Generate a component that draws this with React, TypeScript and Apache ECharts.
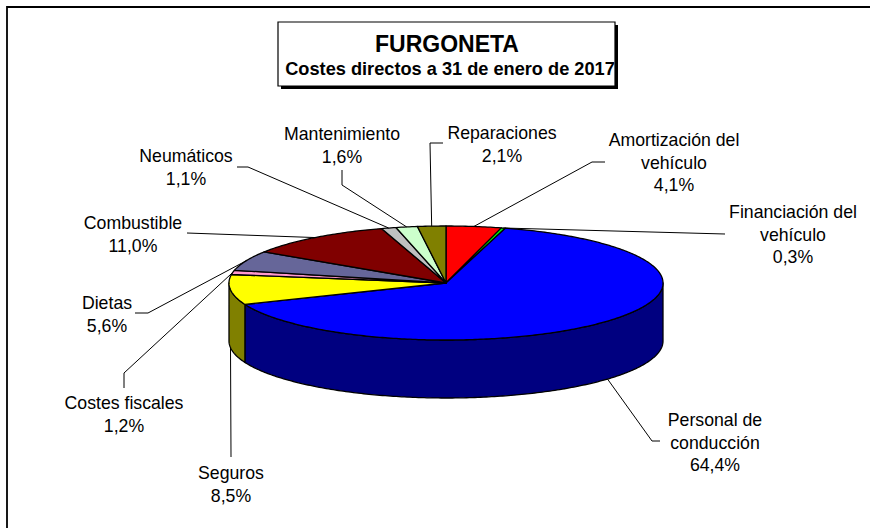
import React, { useEffect, useRef } from "react";
import * as echarts from "echarts";

// ---- data ----
const categories = [
  "Amortización del\nvehículo",
  "Financiación del\nvehículo",
  "Personal de\nconducción",
  "Seguros",
  "Costes fiscales",
  "Dietas",
  "Combustible",
  "Neumáticos",
  "Mantenimiento",
  "Reparaciones",
];
const shares = [4.1, 0.3, 64.4, 8.5, 1.2, 5.6, 11.0, 1.1, 1.6, 2.1];
const chartTitle = "FURGONETA";
const chartSubtitle = "Costes directos a 31 de enero de 2017";

// ---- styles ----
const topColors = ["#FF0000", "#00FF00", "#0000FF", "#FFFF00", "#FF99CC", "#666699", "#800000", "#C0C0C0", "#CCFFCC", "#808000"];
const sideColors = ["#800000", "#008000", "#000080", "#808000", "#804C66", "#33334C", "#400000", "#606060", "#668066", "#404000"];

// ---- layout ----
const PIE = { cx: 446, cy: 283, rx: 217, ry: 57, depth: 58 };
// label block: [centre x, centre y of first line]
const labelPos = [
  [674, 140], [793, 212], [715, 420], [231, 473], [124, 403],
  [107, 303], [133, 223], [186, 156], [342, 134], [502, 133],
];
// leader line points near the label (the last point is computed on the slice)
const labelElbows = [
  [[605, 162], [592, 162]],
  [[725, 234]],
  [[660, 441], [652, 441]],
  [[231, 457]],
  [[124, 388], [124, 373]],
  [[135, 313], [148, 313]],
  [[187, 233]],
  [[237, 167], [248, 167]],
  [[342, 170], [342, 185]],
  [[443, 143], [430, 143]],
];
const FONT = '"Liberation Sans", Arial, sans-serif';
const LABEL_SIZE = 17.7;
const LINE_H = 22.5;

function rim(angleDeg: number, dy = 0): number[] {
  const a = (angleDeg * Math.PI) / 180;
  return [PIE.cx + PIE.rx * Math.sin(a), PIE.cy - PIE.ry * Math.cos(a) + dy];
}
function arcPoints(a0: number, a1: number, dy = 0): number[][] {
  const n = Math.max(2, Math.ceil(Math.abs(a1 - a0) / 0.75) + 1);
  const pts: number[][] = [];
  for (let k = 0; k < n; k++) pts.push(rim(a0 + ((a1 - a0) * k) / (n - 1), dy));
  return pts;
}

export default function App() {
  const ref = useRef<HTMLDivElement>(null);
  useEffect(() => {
    if (!ref.current) return;
    const chart = echarts.init(ref.current, undefined, { renderer: "svg" });

    const total = shares.reduce((a, b) => a + b, 0);
    const starts: number[] = [];
    let acc = 0;
    shares.forEach((v) => {
      starts.push((acc / total) * 360);
      acc += v;
    });
    const sliceAngles = (i: number, v: number) => {
      const a0 = starts[i];
      return [a0, a0 + (v / total) * 360];
    };

    const data = shares.map((v, i) => ({ value: v, name: categories[i] }));

    const renderSlice = (params: any, api: any) => {
      const i = params.dataIndex;
      const v = api.value(0);
      const [a0, a1] = sliceAngles(i, v);
      const children: any[] = [];
      const lo = Math.max(a0, 90);
      const hi = Math.min(a1, 270);
      if (hi > lo) {
        const pts = arcPoints(lo, hi, 0).concat(arcPoints(hi, lo, PIE.depth));
        children.push({
          type: "polygon",
          shape: { points: pts },
          style: { fill: sideColors[i], stroke: "#000", lineWidth: 1.3, lineJoin: "round" },
        });
      }
      children.push({
        type: "polygon",
        shape: { points: [[PIE.cx, PIE.cy]].concat(arcPoints(a0, a1, 0)) },
        style: { fill: topColors[i], stroke: "#000", lineWidth: 1.3, lineJoin: "round" },
      });
      return { type: "group", children };
    };

    const renderLabel = (params: any, api: any) => {
      const i = params.dataIndex;
      const v = api.value(0);
      const [a0, a1] = sliceAngles(i, v);
      const mid = (a0 + a1) / 2;
      const front = mid > 90 && mid < 270;
      const anchor = rim(mid, front ? PIE.depth : 0);
      const pts = labelElbows[i].concat([anchor]);
      const txt = categories[i] + "\n" + v.toFixed(1).replace(".", ",") + "%";
      return {
        type: "group",
        children: [
          {
            type: "polyline",
            shape: { points: pts },
            style: { stroke: "#000", lineWidth: 1, fill: "none" },
          },
          {
            type: "text",
            style: {
              text: txt,
              x: labelPos[i][0],
              y: labelPos[i][1] - LINE_H / 2,
              fill: "#000",
              fontSize: LABEL_SIZE,
              fontFamily: FONT,
              align: "center",
              verticalAlign: "top",
              lineHeight: LINE_H,
            },
          },
        ],
      };
    };

    chart.setOption({
      animation: false,
      backgroundColor: "#fff",
      graphic: [
        {
          type: "rect",
          shape: { x: 7, y: 7, width: 900, height: 560 },
          style: { fill: "none", stroke: "#000", lineWidth: 1.8 },
          z: 0,
        },
        {
          type: "rect",
          shape: { x: 281, y: 25, width: 337, height: 64 },
          style: { fill: "#000" },
          z: 1,
        },
        {
          type: "rect",
          shape: { x: 278, y: 22, width: 337, height: 64 },
          style: { fill: "#fff", stroke: "#000", lineWidth: 1.2 },
          z: 2,
        },
        {
          type: "text",
          z: 3,
          style: {
            text: chartTitle,
            x: 447,
            y: 44,
            fill: "#000",
            fontSize: 23,
            fontWeight: "bold",
            fontFamily: FONT,
            align: "center",
            verticalAlign: "middle",
          },
        },
        {
          type: "text",
          z: 3,
          style: {
            text: chartSubtitle,
            x: 450,
            y: 69,
            fill: "#000",
            fontSize: 18.2,
            fontWeight: "bold",
            fontFamily: FONT,
            align: "center",
            verticalAlign: "middle",
          },
        },
      ],
      series: [
        {
          type: "custom",
          coordinateSystem: "none",
          silent: true,
          data,
          renderItem: renderSlice,
          z: 2,
        },
        {
          type: "custom",
          coordinateSystem: "none",
          silent: true,
          data,
          renderItem: renderLabel,
          z: 3,
        },
      ],
    });
    return () => chart.dispose();
  }, []);
  return (
    <div
      ref={ref}
      style={{ position: "fixed", left: 0, top: 0, width: 870, height: 528 }}
    />
  );
}
